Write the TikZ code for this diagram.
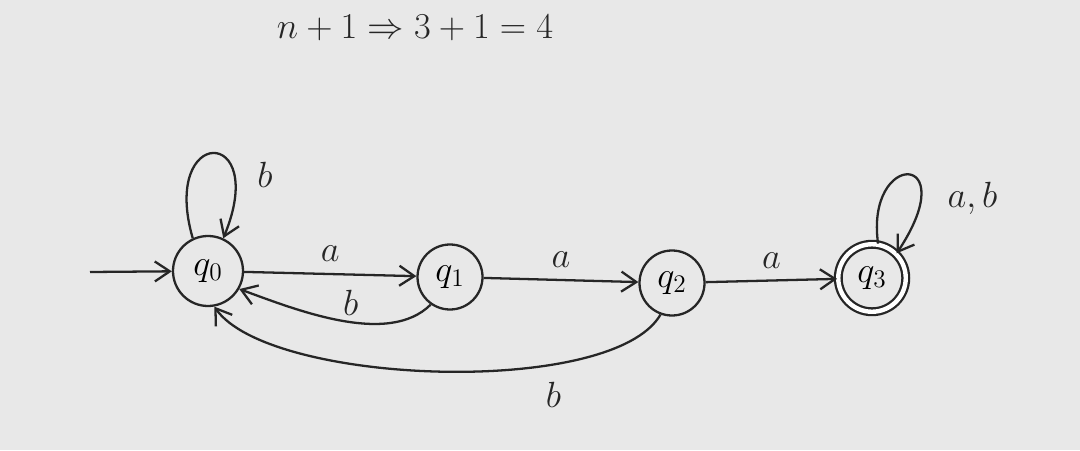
\documentclass[tikz,border=0pt]{standalone}
\usepackage{amsmath,amssymb}
\usepackage{tikz}
\usetikzlibrary{positioning, arrows.meta}

\begin{document}
\begin{tikzpicture}[
    >={Straight Barb[length=3mm,width=4mm]},
    ink/.style={draw=black!85, line width=1.3pt},
    state/.style={circle, ink, minimum size=1.3cm, inner sep=0pt, font=\huge},
    accstate/.style={state, double, double distance=2.5pt, minimum size=1.35cm},
    arr/.style={->, ink},
    lbl/.style={font=\huge, text=black!85},
]

% paper
\fill[gray!18] (0,0) rectangle (21.6,9);
\useasboundingbox (0,0) rectangle (21.6,9);

% Heading
\node[lbl] (calc) at (8.3,8.44) {$n+1 \Rightarrow 3+1 = 4$};

% States
\node[state, minimum size=1.4cm] (q0) at (4.16,3.58) {$q_0$};
\node[state] (q1) at (9.0,3.46) {$q_1$};
\node[state] (q2) at (13.44,3.34) {$q_2$};
\node[accstate] (q3) at (17.44,3.44) {$q_3$};

% Start
\coordinate (start) at (1.8,3.56);
\draw[arr] (start) -- (q0);

% Forward transitions
\draw[arr] (q0) -- node[lbl, above=3pt] {$a$} (q1);
\draw[arr] (q1) -- node[lbl, above=3pt] {$a$} (q2);
\draw[arr] (q2) -- node[lbl, above=3pt] {$a$} (q3);

% Self loops
\draw[arr] (q0.115) .. controls (3.2,6.5) and (5.4,6.5) .. (q0.65);
\node[lbl] (lb0) at (5.3,5.5) {$b$};
\draw[arr] (q3.80) .. controls (17.3,6.0) and (19.3,6.0) .. (q3.45);
\node[lbl] (lb3) at (19.45,5.04) {$a,b$};

% Back transitions
\draw[arr] (q1.235) to[out=225, in=-20, looseness=0.8] node[lbl, above, pos=0.45] {$b$} (q0.-30);
\draw[arr] (q2.250) to[out=240, in=-55, looseness=0.55] node[lbl, below=6pt, pos=0.3] {$b$} (q0.-80);

\end{tikzpicture}
\end{document}
